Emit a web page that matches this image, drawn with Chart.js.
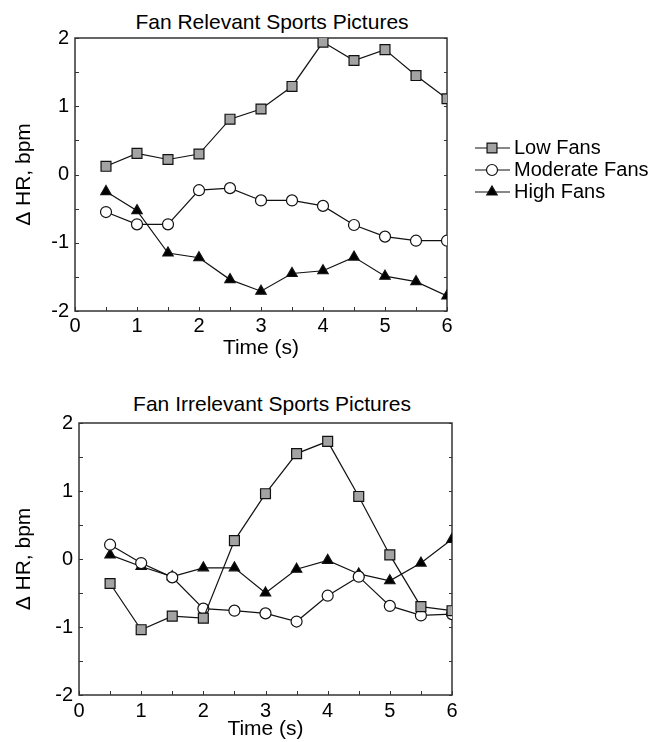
<!DOCTYPE html>
<html>
<head>
<meta charset="utf-8">
<script src="https://cdn.jsdelivr.net/npm/chart.js@4.4.1/dist/chart.umd.min.js"></script>
<style>
body { margin: 0; background: #fff; }
#wrap { position: relative; width: 654px; height: 742px; }
.ttl { position: absolute; left: 0; width: 544px; text-align: center;
  font-family: "Liberation Sans", Arial, sans-serif; font-size: 21px; color: #000; line-height: 24px; }
canvas { position: absolute; left: 0; }
</style>
</head>
<body>
<div id="wrap">
  <div class="ttl" style="top:10px">Fan Relevant Sports Pictures</div>
  <canvas id="top" width="654" height="370" style="top:0"></canvas>
  <div class="ttl" style="top:392px">Fan Irrelevant Sports Pictures</div>
  <canvas id="bottom" width="654" height="357" style="top:385px"></canvas>
</div>
<script>
var times = [0.5, 1, 1.5, 2, 2.5, 3, 3.5, 4, 4.5, 5, 5.5, 6];
var seriesNames = ["Low Fans", "Moderate Fans", "High Fans"];
var xTicks = [0, 1, 2, 3, 4, 5, 6];
var yTicks = [-2, -1, 0, 1, 2];

// fan relevant pictures
var relLow = [0.12, 0.31, 0.22, 0.30, 0.81, 0.96, 1.29, 1.94, 1.67, 1.83, 1.45, 1.11];
var relModerate = [-0.55, -0.73, -0.73, -0.23, -0.20, -0.38, -0.38, -0.46, -0.74, -0.91, -0.97, -0.97];
var relHigh = [-0.25, -0.53, -1.15, -1.22, -1.54, -1.71, -1.45, -1.41, -1.21, -1.49, -1.57, -1.78];

// fan irrelevant pictures
var irrLow = [-0.36, -1.04, -0.84, -0.87, 0.27, 0.96, 1.55, 1.73, 0.92, 0.06, -0.70, -0.76];
var irrModerate = [0.21, -0.06, -0.27, -0.73, -0.76, -0.80, -0.92, -0.54, -0.26, -0.69, -0.83, -0.81];
var irrHigh = [0.06, -0.11, -0.26, -0.13, -0.13, -0.50, -0.15, -0.02, -0.22, -0.32, -0.06, 0.29];

var font = "'Liberation Sans', Arial, sans-serif";
var styles = [
  { pointStyle: 'rect', pointRadius: 7, pointBackgroundColor: '#a3a3a3' },
  { pointStyle: 'circle', pointRadius: 5.5, pointBackgroundColor: '#fff' },
  { pointStyle: 'triangle', pointRadius: 6, pointBackgroundColor: '#000' }
];

// index 0 is drawn on top by chart.js, so low fans sit above the others
function makeSets(low, mod, high) {
  return [low, mod, high].map(function(vals, i) {
    var s = styles[i];
    return {
      label: seriesNames[i],
      data: vals.map(function(v, j) { return { x: times[j], y: v }; }),
      borderColor: '#111',
      borderWidth: 1.2,
      pointStyle: s.pointStyle,
      pointRadius: s.pointRadius,
      pointBackgroundColor: s.pointBackgroundColor,
      pointBorderColor: '#111',
      pointBorderWidth: 1.2,
      tension: 0
    };
  });
}

var framePlugin = {
  id: 'frame',
  beforeDatasetsDraw: function(chart) {
    var a = chart.chartArea, ctx = chart.ctx;
    var xs = chart.scales.x, ys = chart.scales.y;
    ctx.save();
    ctx.strokeStyle = '#333';
    ctx.lineWidth = 1.5;
    ctx.strokeRect(a.left, a.top, a.right - a.left, a.bottom - a.top);
    ctx.lineWidth = 1;
    ctx.beginPath();
    for (var v = -2; v <= 2; v += 0.5) {
      var y = Math.round(ys.getPixelForValue(v)) + 0.5;
      ctx.moveTo(a.left, y); ctx.lineTo(a.left + 4, y);
      ctx.moveTo(a.right, y); ctx.lineTo(a.right - 3, y);
    }
    for (var t = 0; t <= 6; t += 0.5) {
      var x = Math.round(xs.getPixelForValue(t)) + 0.5;
      ctx.moveTo(x, a.bottom); ctx.lineTo(x, a.bottom - 4);
    }
    ctx.stroke();
    ctx.restore();
  }
};

var legendPlugin = {
  id: 'sideLegend',
  afterDraw: function(chart) {
    var ctx = chart.ctx;
    var rows = [148, 170, 192];
    ctx.save();
    for (var i = 0; i < 3; i++) {
      var s = styles[i], y = rows[i];
      ctx.strokeStyle = '#111';
      ctx.lineWidth = 1.2;
      ctx.beginPath(); ctx.moveTo(475, y); ctx.lineTo(510, y); ctx.stroke();
      ctx.fillStyle = s.pointBackgroundColor;
      Chart.helpers.drawPoint(ctx, { pointStyle: s.pointStyle, radius: s.pointRadius, rotation: 0, borderWidth: 1.2 }, 492, y);
      ctx.fillStyle = '#000';
      ctx.font = '20px ' + font;
      ctx.textBaseline = 'middle';
      ctx.fillText(seriesNames[i], 514, y);
    }
    ctx.restore();
  }
};

function makeChart(id, sets, cfg, plugins) {
  return new Chart(document.getElementById(id), {
    type: 'line',
    data: { datasets: sets },
    options: {
      responsive: false,
      animation: false,
      layout: { padding: { top: cfg.top, right: cfg.right, left: 0, bottom: 0 } },
      plugins: { legend: { display: false }, tooltip: { enabled: false } },
      scales: {
        x: {
          type: 'linear', min: 0, max: 6,
          afterBuildTicks: function(s) { s.ticks = xTicks.map(function(v) { return { value: v }; }); },
          afterFit: function(s) { s.height = cfg.xh; },
          grid: { display: false, drawTicks: false },
          border: { display: false },
          ticks: { font: { family: font, size: 20 }, color: '#000', padding: cfg.xpad, maxRotation: 0 },
          title: { display: true, text: 'Time (s)', font: { family: font, size: 21 }, color: '#000', padding: { top: 0, bottom: cfg.tpad } }
        },
        y: {
          min: -2, max: 2,
          afterBuildTicks: function(s) { s.ticks = yTicks.map(function(v) { return { value: v }; }); },
          afterFit: function(s) { s.width = cfg.yw; },
          grid: { display: false, drawTicks: false },
          border: { display: false },
          ticks: { font: { family: font, size: 20 }, color: '#000', padding: 6 },
          title: { display: true, text: 'Δ HR, bpm', font: { family: font, size: 21 }, color: '#000', padding: { top: 12, bottom: 0 } }
        }
      }
    },
    plugins: plugins
  });
}

makeChart('top', makeSets(relLow, relModerate, relHigh),
  { top: 38, right: 207, yw: 75, xh: 59, xpad: 3, tpad: 9 }, [framePlugin, legendPlugin]);
makeChart('bottom', makeSets(irrLow, irrModerate, irrHigh),
  { top: 38, right: 202, yw: 79, xh: 47, xpad: 4, tpad: 0 }, [framePlugin]);
</script>
</body>
</html>
